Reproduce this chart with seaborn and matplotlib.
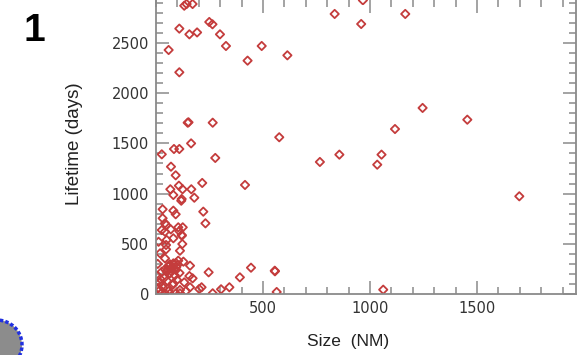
import matplotlib
matplotlib.use("Agg")
import matplotlib.pyplot as plt
import seaborn as sns
import pandas as pd
from matplotlib.patches import Ellipse
from matplotlib.ticker import MultipleLocator

# ---- data ----
size_nm = [835, 959, 1165, 967, 494, 614, 1246, 1455, 1117, 576, 857, 1054, 1034, 766, 1698,
           556, 564, 1062,
           132, 143, 171, 109, 156, 192, 249, 264, 299, 327, 59, 428, 109,
           148, 152, 265, 164, 84, 109, 27, 277, 70, 92, 216, 416, 107, 67, 124, 165, 81, 120, 179,
           118, 31, 81, 92, 221, 231, 31, 42, 48, 104, 125, 109, 69, 121, 42, 81,
           120, 50, 123, 47, 47, 112, 19, 42, 104, 128, 159, 65, 81, 93, 58, 73, 42, 27, 50, 65, 93,
           246, 444, 392, 555, 156, 171, 132, 159, 202, 213, 343, 304, 265,
           19, 35, 58, 81, 33, 112, 112, 93, 65, 42, 27,
           27, 12, 8, 20, 60, 75, 85, 100, 70, 55, 88, 95, 110, 38, 15, 10, 5, 52, 78, 98, 140]
lifetime_days = [2789, 2689, 2789, 2925, 2470, 2377, 1853, 1736, 1643, 1561, 1388, 1388, 1288, 1315, 973,
                 226, 20, 43,
                 2871, 2888, 2888, 2643, 2586, 2605, 2709, 2686, 2586, 2470, 2430, 2324, 2208,
                 1706, 1710, 1706, 1500, 1444, 1444, 1391, 1355, 1268, 1182, 1106, 1086, 1079, 1043, 1043, 1043, 986, 946, 959,
                 929, 844, 830, 794, 820, 704, 754, 704, 687, 664, 664, 627, 644, 581, 620, 555,
                 588, 538, 498, 488, 445, 431, 405, 355, 332, 322, 282, 296, 305, 309, 272, 256, 246, 222, 222, 206, 239,
                 216, 262, 166, 232, 179, 156, 116, 67, 50, 67, 67, 47, 7,
                 40, 60, 30, 106, 90, 40, 7, 7, 3, 7, 13,
                 637, 520, 300, 150, 280, 265, 250, 290, 230, 240, 185, 270, 210, 160, 110, 60, 180, 130, 90, 140, 30]

df = pd.DataFrame({"Size (NM)": size_nm, "Lifetime (days)": lifetime_days})

sns.set_theme(style="white")
plt.rcParams["font.family"] = ["Liberation Sans", "DejaVu Sans"]

fig = plt.figure(figsize=(5.82, 3.55), dpi=100)
ax = fig.add_axes([156 / 582, 61 / 355, 420 / 582, 294 / 355])

red = "#c43c3c"
sns.scatterplot(data=df, x="Size (NM)", y="Lifetime (days)", ax=ax, marker="D", s=18,
                facecolor="none", edgecolor=red, linewidth=1.3, legend=False)

ax.set_xlim(0, 1963)
ax.set_ylim(0, 2928)
ax.xaxis.set_major_locator(MultipleLocator(500))
ax.xaxis.set_minor_locator(MultipleLocator(100))
ax.yaxis.set_major_locator(MultipleLocator(500))
ax.yaxis.set_minor_locator(MultipleLocator(100))

gray = "#8a8a8a"
ax.tick_params(which="major", direction="in", length=9.5, width=1.1, color=gray,
               top=True, right=True, bottom=True, left=True, labelsize=10.5,
               labelcolor="#333333", pad=5)
ax.tick_params(which="minor", direction="in", length=5, width=1.1, color=gray,
               top=True, right=True, bottom=True, left=True)
ax.set_xticks([500, 1000, 1500])
ax.set_yticks([0, 500, 1000, 1500, 2000, 2500])
for lab in ax.get_xticklabels() + ax.get_yticklabels():
    lab.set_family(["DejaVu Sans"])
for sp in ax.spines.values():
    sp.set_color(gray)
    sp.set_linewidth(1.3)
ax.spines["top"].set_visible(False)

ax.set_xlabel("Size  (NM)", fontsize=12.5, color="#222222")
ax.set_ylabel("Lifetime (days)", fontsize=13.5, color="#222222")
ax.xaxis.set_label_coords(0.457, -0.135)
ax.yaxis.set_label_coords(-0.173, 0.51)

fig.text(23 / 582, 1 - 41 / 355, "1", fontsize=28, fontweight="bold", color="black",
         ha="left", va="baseline")

# partial icon in bottom-left corner
circ = Ellipse((-3 / 582, 10 / 355), width=50 / 582, height=50 / 355, transform=fig.transFigure,
               facecolor="#8c8c8c", edgecolor="#2030e0", linewidth=2.5, linestyle=(0, (1, 0.6)),
               clip_on=False)
fig.patches.append(circ)

fig.savefig("out.png", dpi=100)
